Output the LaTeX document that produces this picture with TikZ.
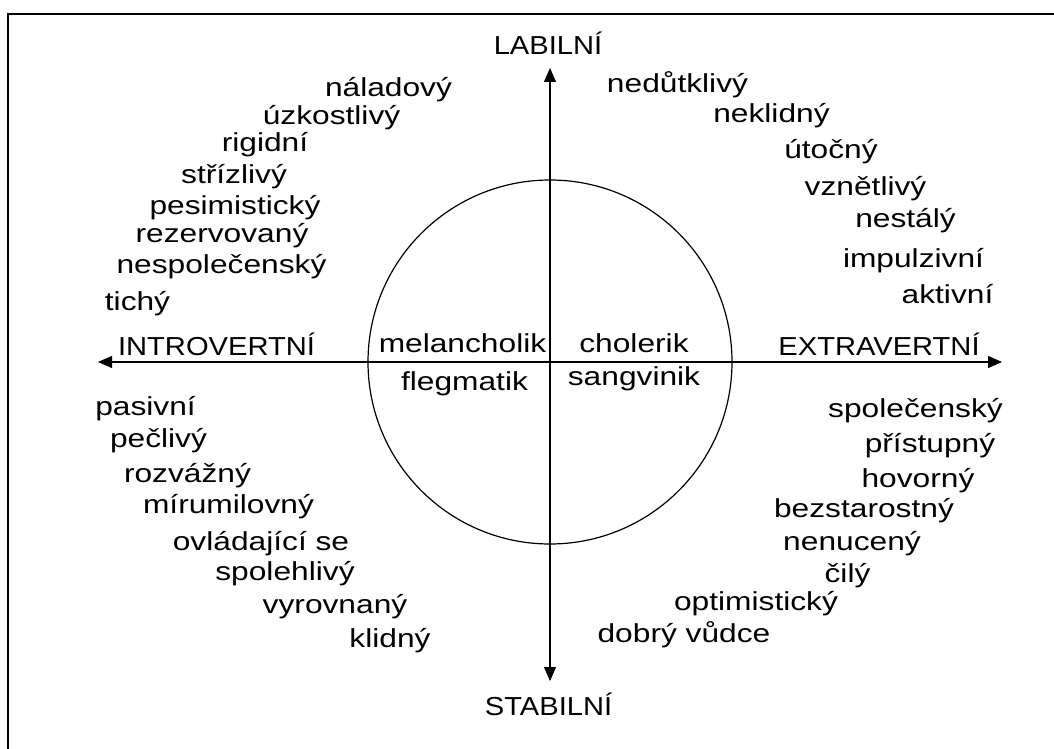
\documentclass[tikz,border=0pt]{standalone}
\usepackage{fontspec}
\setmainfont{Liberation Sans}[FakeStretch=1.22]
\newfontfamily\polefont{Liberation Sans}[FakeStretch=1.12]
\usetikzlibrary{arrows.meta}

\begin{document}
\begin{tikzpicture}[x=0.5pt,y=-0.5pt,
    word/.style={anchor=base,inner sep=0pt,font=\fontsize{13pt}{15pt}\selectfont},
    pole/.style={anchor=base,inner sep=0pt,font=\polefont\fontsize{13pt}{15pt}\selectfont},
    axtip/.tip={Triangle[length=7pt,width=6pt]},
    axis/.style={line width=0.6pt,axtip-axtip}]
\useasboundingbox (0,0) rectangle (1054,749);

% Frame
\draw[line width=1pt] (8,749) -- (8,14) -- (1054,14);

% Axes and the circle
\coordinate (o) at (550,362);
\coordinate (up) at (550,68);
\coordinate (down) at (550,681);
\coordinate (west) at (98,362);
\coordinate (east) at (1002,362);
\draw[axis] (up) -- (down);
\draw[axis] (west) -- (east);
\draw[line width=0.6pt] (o) circle (91pt);

% Poles
\node[pole] (labilni) at (548,55) {LABILNÍ};
\node[pole] (stabilni) at (548.5,715) {STABILNÍ};
\node[pole] (intro) at (216.5,355) {INTROVERTNÍ};
\node[pole] (extra) at (879,355) {EXTRAVERTNÍ};

% Temperaments
\node[word] (melan) at (462.5,352) {melancholik};
\node[word] (chol) at (634,352) {cholerik};
\node[word] (fleg) at (464.5,390) {flegmatik};
\node[word] (sang) at (634,385) {sangvinik};

% Traits, one quadrant at a time
\foreach \t/\x/\y [count=\i] in {náladový/388.5/97, úzkostlivý/331.5/125,
    rigidní/265/151, střízlivý/234/183, pesimistický/235/214,
    rezervovaný/222/242, nespolečenský/221.5/273, tichý/137.5/310}
  \node[word] (lu\i) at (\x,\y) {\t};

\foreach \t/\x/\y [count=\i] in {nedůtklivý/677.5/93, neklidný/771.5/123,
    útočný/831/158, vznětlivý/865.5/195, nestálý/905.5/227,
    impulzivní/913.5/267, aktivní/947.5/303}
  \node[word] (ru\i) at (\x,\y) {\t};

\foreach \t/\x/\y [count=\i] in {pasivní/145.5/415, pečlivý/158.5/447,
    rozvážný/187.5/482, mírumilovný/228.5/513, ovládající se/261/550,
    spolehlivý/285/580, vyrovnaný/335/613, klidný/390/647}
  \node[word] (ld\i) at (\x,\y) {\t};

\foreach \t/\x/\y [count=\i] in {společenský/915.5/417, přístupný/930/452,
    hovorný/918/487, bezstarostný/864/517, nenucený/852/550,
    čilý/847.5/582, optimistický/756/610, dobrý vůdce/684/642}
  \node[word] (rd\i) at (\x,\y) {\t};

\end{tikzpicture}
\end{document}
